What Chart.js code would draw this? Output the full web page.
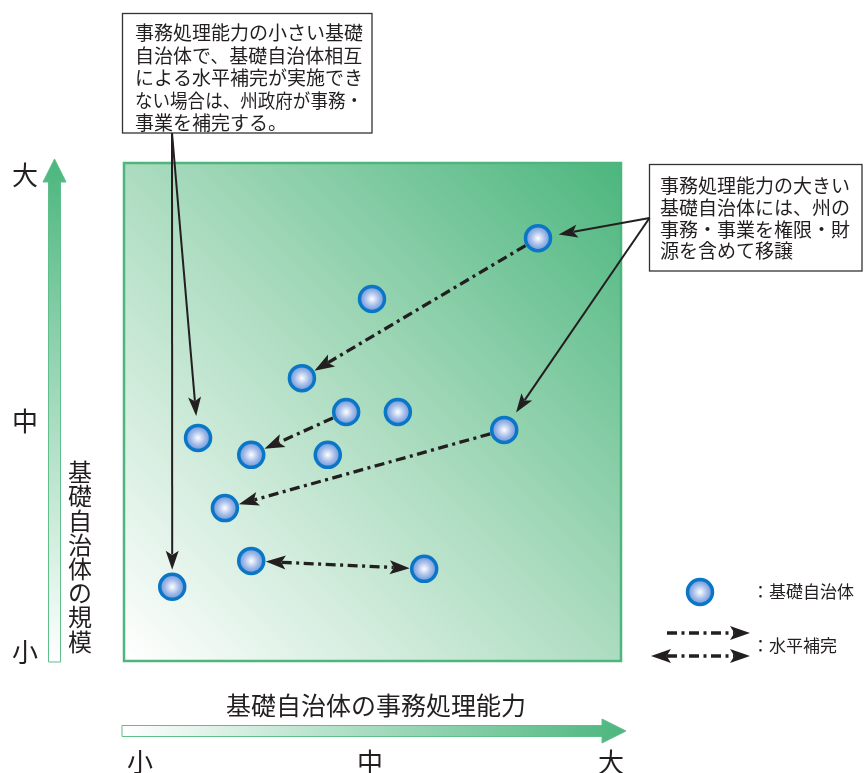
<!DOCTYPE html>
<html><head><meta charset="utf-8">
<script src="https://cdn.jsdelivr.net/npm/chart.js@4/dist/chart.umd.min.js"></script>
<style>html,body{margin:0;padding:0;background:#fff;}canvas{display:block;}</style>
</head><body>
<canvas id="c" width="864" height="773"></canvas>
<script>
// ---- data ----
const municipalityIds = ['M1','M2','M3','M4','M5','M6','M7','M8','M9','M10','M11','M12','M13'];
const processingCapacity = [83.3, 49.9, 35.8, 44.7, 55.1, 14.9, 25.6, 41.0, 76.5, 20.3, 25.6, 60.4, 9.7];
const municipalityScale  = [84.9, 72.7, 56.8, 50.0, 50.0, 44.8, 41.4, 41.4, 46.4, 30.7, 20.1, 18.5, 14.9];
const complementFrom   = [0, 3, 8, 10];
const complementTo     = [2, 6, 9, 11];
const complementTwoWay = [false, false, false, true];
const stateNoteTargets    = [5, 12];
const transferNoteTargets = [0, 8];
const levelLabels = ['小', '中', '大'];
const xAxisTitle = '基礎自治体の事務処理能力';
const yAxisTitle = '基礎自治体の規模';
const stateNoteLines = ['事務処理能力の小さい基礎', '自治体で、基礎自治体相互', 'による水平補完が実施でき', 'ない場合は、州政府が事務・', '事業を補完する。'];
const transferNoteLines = ['事務処理能力の大きい', '基礎自治体には、州の', '事務・事業を権限・財', '源を含めて移譲'];
const legendPointLabel = '：基礎自治体';
const legendArrowLabel = '：水平補完';

// ---- style ----
const FONT = '"Noto Sans CJK JP","Noto Sans CJK SC",sans-serif';
const GREEN = '#4cb67e';
const INK = '#231f20';
const BALL_R = 12.5;
const BALL_EDGE = '#0a76c6';

function ballGradient(c, x, y) {
  const g = c.createRadialGradient(x, y, 0, x, y, BALL_R);
  g.addColorStop(0, '#ffffff');
  g.addColorStop(0.55, '#a6beea');
  g.addColorStop(1, '#6a93d9');
  return g;
}
function ballFill(ctx) {
  const ch = ctx.chart;
  if (ctx.type !== 'data' || !ch.scales || !ch.scales.x || !ch.scales.y) return '#8fb0e4';
  const x = ch.scales.x.getPixelForValue(ctx.raw.x);
  const y = ch.scales.y.getPixelForValue(ctx.raw.y);
  if (!isFinite(x) || !isFinite(y)) return '#8fb0e4';
  return ballGradient(ch.ctx, x, y);
}
function arrowHead(c, tx, ty, ang, len, hw) {
  c.save(); c.translate(tx, ty); c.rotate(ang);
  c.beginPath(); c.moveTo(0, 0); c.lineTo(-len, -hw); c.lineTo(-len * 0.78, 0); c.lineTo(-len, hw); c.closePath();
  c.fill(); c.restore();
}
function arrow(c, x1, y1, x2, y2, o) {
  const a = Math.atan2(y2 - y1, x2 - x1), ca = Math.cos(a), sa = Math.sin(a);
  const back = o.len * 0.8;
  let sx = x1, sy = y1;
  if (o.both) { sx = x1 + ca * back; sy = y1 + sa * back; }
  const ex = x2 - ca * back, ey = y2 - sa * back;
  c.save();
  c.strokeStyle = INK; c.fillStyle = INK; c.lineWidth = o.width; c.lineCap = 'butt';
  c.setLineDash(o.dash || []);
  c.beginPath(); c.moveTo(sx, sy); c.lineTo(ex, ey); c.stroke();
  c.setLineDash([]);
  arrowHead(c, x2, y2, a, o.len, o.hw);
  if (o.both) arrowHead(c, x1, y1, a + Math.PI, o.len, o.hw);
  c.restore();
}
const DASH = [10, 4.5, 3, 4.5];
function textBox(c, l, t, r, b, lines, tx, ty0, step, maxW) {
  c.save();
  c.fillStyle = '#fff'; c.fillRect(l, t, r - l, b - t);
  c.strokeStyle = '#333'; c.lineWidth = 1.3; c.strokeRect(l, t, r - l, b - t);
  c.fillStyle = INK; c.font = '19px ' + FONT; c.textBaseline = 'middle'; c.textAlign = 'left';
  lines.forEach((s, i) => {
    const w = c.measureText(s).width;
    if (w > maxW) c.fillText(s, tx, ty0 + i * step, maxW); else c.fillText(s, tx, ty0 + i * step);
  });
  c.restore();
}

const diagramPlugin = {
  id: 'diagram',
  beforeDraw(chart) {
    const c = chart.ctx, A = chart.chartArea;
    c.save();
    c.fillStyle = '#fff'; c.fillRect(0, 0, chart.width, chart.height);
    // square
    const g = c.createLinearGradient(A.left, A.bottom, A.right, A.top);
    g.addColorStop(0, '#ffffff'); g.addColorStop(0.5, '#acdcc0'); g.addColorStop(1, GREEN);
    c.fillStyle = g; c.fillRect(A.left, A.top, A.right - A.left, A.bottom - A.top);
    c.strokeStyle = GREEN; c.lineWidth = 2.5; c.strokeRect(A.left, A.top, A.right - A.left, A.bottom - A.top);

    // y arrow
    const gy = c.createLinearGradient(0, 662, 0, 160);
    gy.addColorStop(0, '#ffffff'); gy.addColorStop(1, GREEN);
    c.beginPath();
    c.moveTo(48.5, 662); c.lineTo(48.5, 182); c.lineTo(43, 182); c.lineTo(54.5, 159); c.lineTo(66, 182); c.lineTo(60.5, 182); c.lineTo(60.5, 662); c.closePath();
    c.fillStyle = gy; c.fill(); c.strokeStyle = '#5fbf8b'; c.lineWidth = 1; c.stroke();
    // x arrow
    const gx = c.createLinearGradient(122, 0, 626, 0);
    gx.addColorStop(0, '#ffffff'); gx.addColorStop(1, GREEN);
    c.beginPath();
    c.moveTo(122, 725.5); c.lineTo(602, 725.5); c.lineTo(602, 719); c.lineTo(626, 731); c.lineTo(602, 743); c.lineTo(602, 736.5); c.lineTo(122, 736.5); c.closePath();
    c.fillStyle = gx; c.fill(); c.strokeStyle = '#5fbf8b'; c.lineWidth = 1; c.stroke();

    // axis level labels
    c.fillStyle = INK; c.textAlign = 'center'; c.textBaseline = 'middle';
    c.font = '26px ' + FONT;
    const yPos = [652, 421, 175];
    levelLabels.forEach((s, i) => c.fillText(s, 25, yPos[i]));
    const xPos = [140, 370, 611];
    levelLabels.forEach((s, i) => c.fillText(s, xPos[i], 762));
    // titles
    c.font = '25px ' + FONT;
    c.fillText(xAxisTitle, 376, 705);
    c.font = '24px ' + FONT;
    Array.from(yAxisTitle).forEach((ch, i) => c.fillText(ch, 80, 472 + i * 24.2));

    // note boxes
    textBox(c, 122.5, 13.5, 372, 133, stateNoteLines, 135, 33, 22.5, 228);
    textBox(c, 649.5, 164.5, 862, 271, transferNoteLines, 660, 186, 21.7, 192);

    // legend
    c.beginPath(); c.arc(700, 592, BALL_R, 0, Math.PI * 2);
    c.fillStyle = ballGradient(c, 700, 592); c.fill();
    c.strokeStyle = BALL_EDGE; c.lineWidth = 3.5; c.stroke();
    c.fillStyle = INK; c.textAlign = 'left'; c.font = '17px ' + FONT;
    c.fillText(legendPointLabel, 752, 592);
    c.fillText(legendArrowLabel, 752, 646);
    arrow(c, 667, 633, 750, 633, { width: 3.3, len: 20, hw: 7, dash: DASH });
    arrow(c, 651, 656, 750, 656, { width: 3.3, len: 20, hw: 7, dash: DASH, both: true });
    c.restore();
  },
  beforeDatasetsDraw(chart) {
    const c = chart.ctx, sx = chart.scales.x, sy = chart.scales.y;
    complementFrom.forEach((f, k) => {
      const t = complementTo[k];
      const x1 = sx.getPixelForValue(processingCapacity[f]), y1 = sy.getPixelForValue(municipalityScale[f]);
      const x2 = sx.getPixelForValue(processingCapacity[t]), y2 = sy.getPixelForValue(municipalityScale[t]);
      const a = Math.atan2(y2 - y1, x2 - x1), off = BALL_R + 2;
      arrow(c, x1 + Math.cos(a) * off, y1 + Math.sin(a) * off, x2 - Math.cos(a) * off, y2 - Math.sin(a) * off,
        { width: 3.3, len: 20, hw: 7, dash: DASH, both: complementTwoWay[k] });
    });
  },
  afterDatasetsDraw(chart) {
    const c = chart.ctx, sx = chart.scales.x, sy = chart.scales.y;
    const note = (ox, oy, idx, gap) => {
      const x2 = sx.getPixelForValue(processingCapacity[idx]), y2 = sy.getPixelForValue(municipalityScale[idx]);
      const a = Math.atan2(y2 - oy, x2 - ox);
      arrow(c, ox, oy, x2 - Math.cos(a) * gap, y2 - Math.sin(a) * gap, { width: 2, len: 19, hw: 6.5 });
    };
    note(172, 133, stateNoteTargets[0], 22);
    note(172, 133, stateNoteTargets[1], 17);
    note(649.5, 218, transferNoteTargets[0], 21);
    note(649.5, 218, transferNoteTargets[1], 21);
  }
};

new Chart(document.getElementById('c'), {
  type: 'scatter',
  data: {
    labels: municipalityIds,
    datasets: [{
      data: processingCapacity.map((v, i) => ({ x: v, y: municipalityScale[i] })),
      pointRadius: BALL_R, pointHoverRadius: BALL_R,
      borderWidth: 3.5, borderColor: BALL_EDGE,
      backgroundColor: ballFill
    }]
  },
  options: {
    responsive: false, devicePixelRatio: 1, animation: false, events: [],
    layout: { padding: { left: 124, top: 163, right: 243, bottom: 112 } },
    scales: { x: { display: false, min: 0, max: 100 }, y: { display: false, min: 0, max: 100 } },
    plugins: { legend: { display: false }, tooltip: { enabled: false } }
  },
  plugins: [diagramPlugin]
});
</script>
</body></html>
